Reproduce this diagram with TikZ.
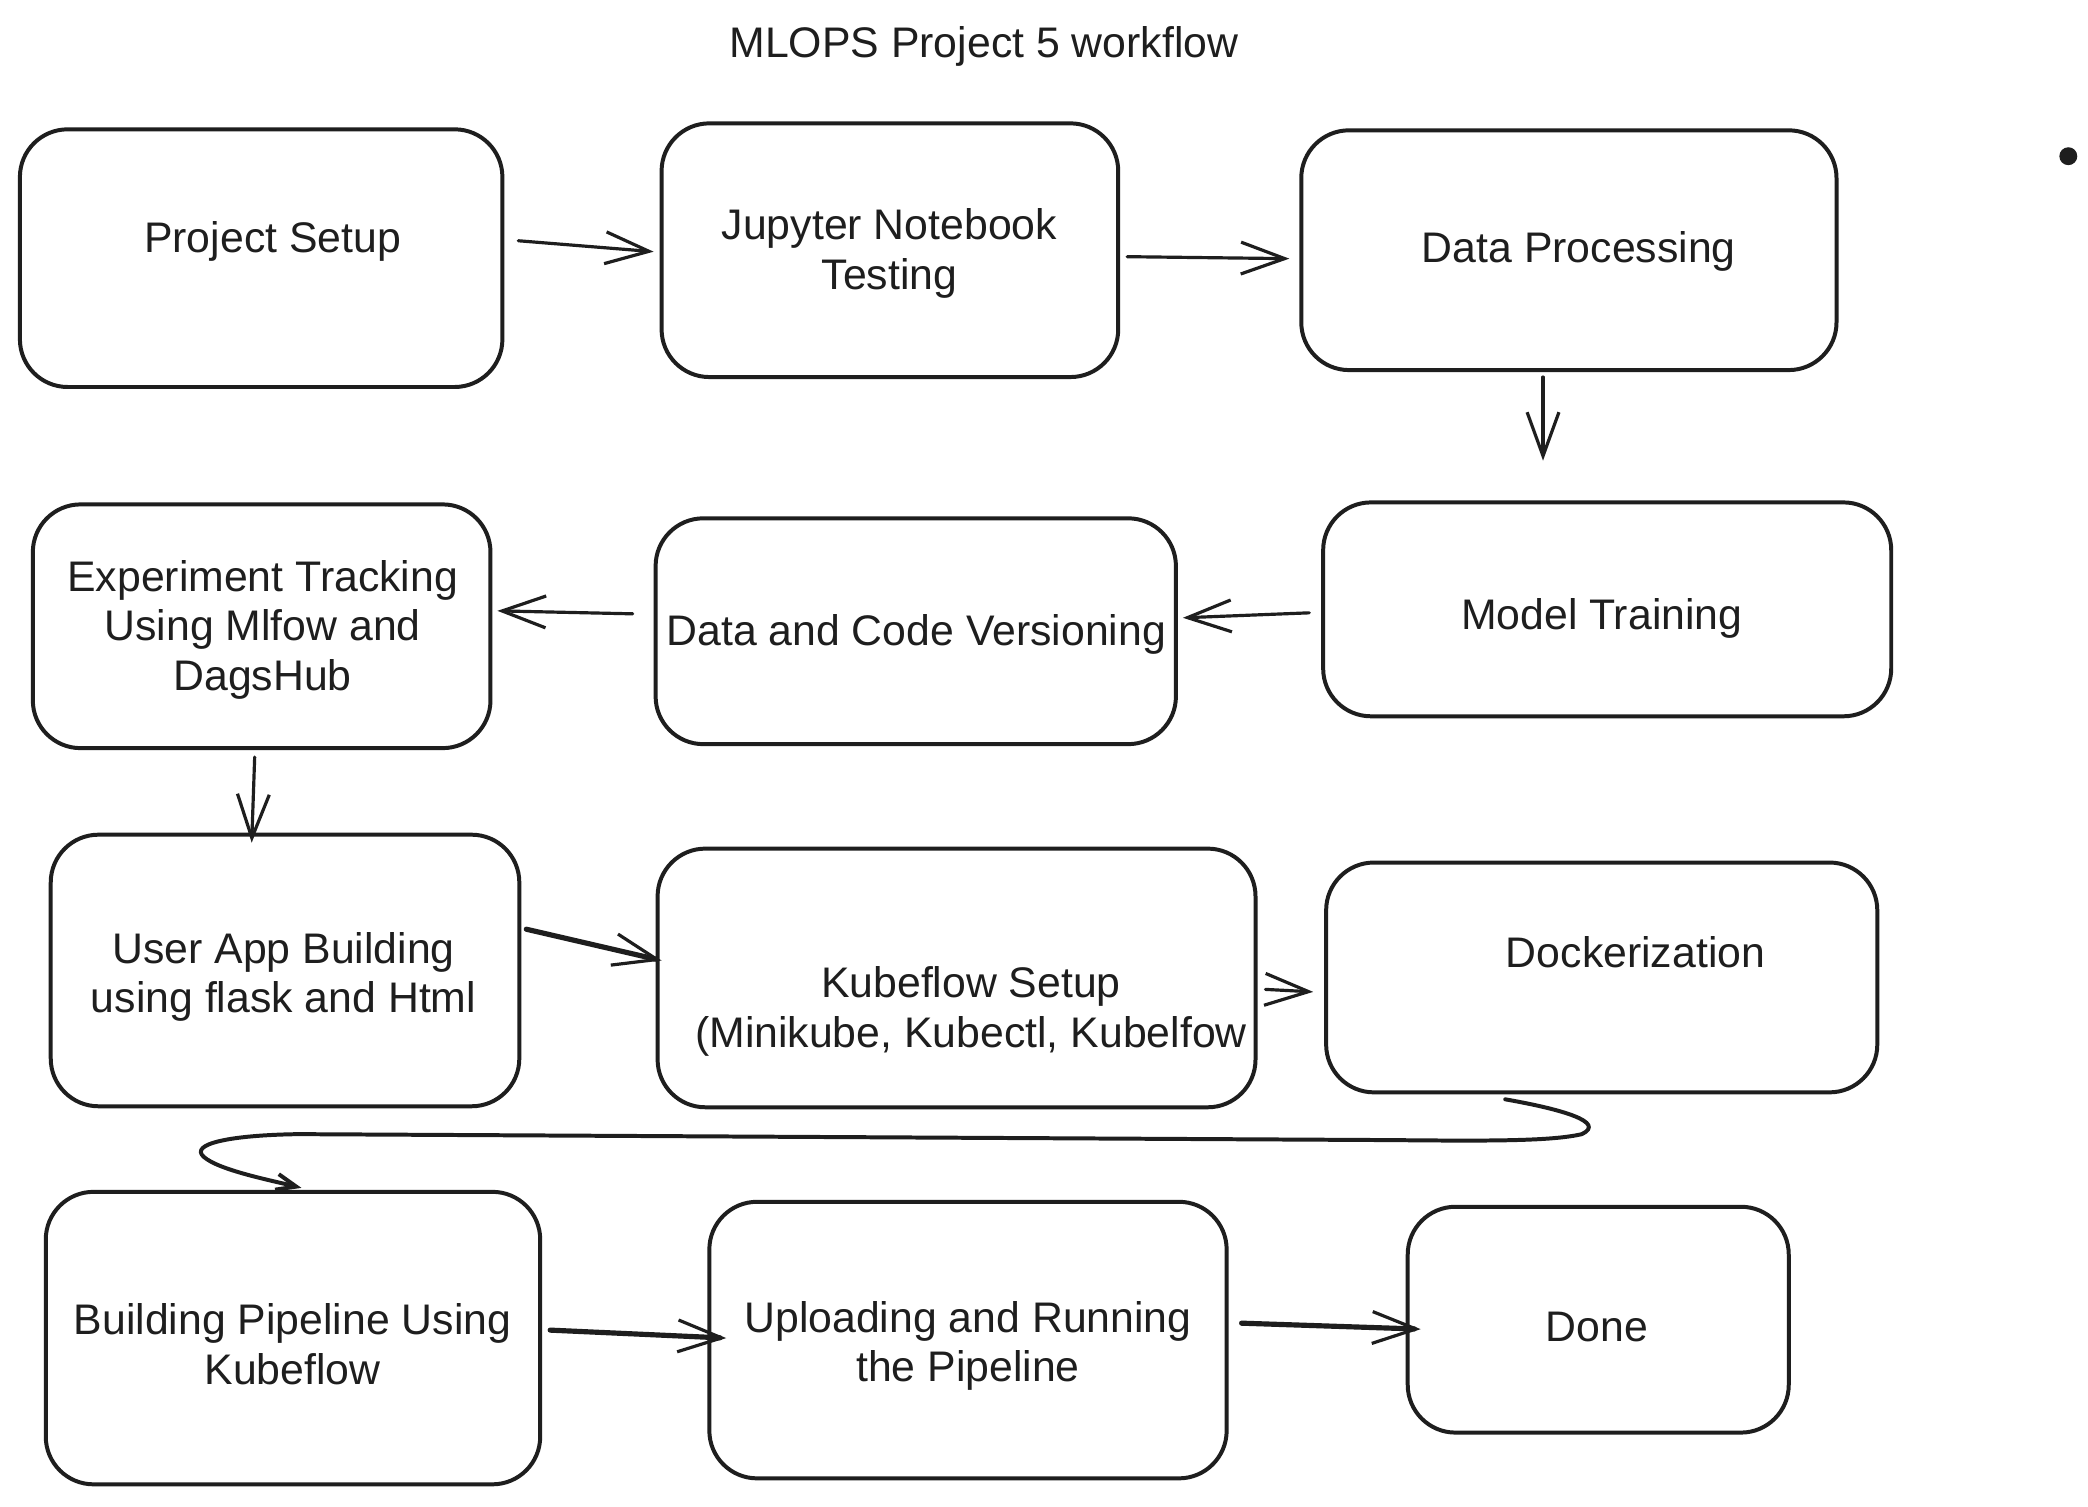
\documentclass[tikz,border=0pt]{standalone}
\usepackage{fontspec}
\setmainfont{Liberation Sans}
\usetikzlibrary{arrows.meta,calc}
\definecolor{ink}{HTML}{1E1E1E}
\begin{document}
\begin{tikzpicture}[x=0.5pt,y=-0.5pt,
  box/.style={draw=ink,line width=2pt,rounded corners=24pt,inner sep=0pt},
  lbl/.style={text=ink,align=center,font=\fontsize{21.5}{25}\selectfont,inner sep=0pt},
  conn/.style={draw=ink,line width=1.6pt,line cap=round,line join=round,
    -{Straight Barb[length=22pt,width=16pt,line width=1.6pt]}},
  thick conn/.style={conn,line width=2.6pt},
]
\fill[white] (0,0) rectangle (2098.8,1513.8);
\useasboundingbox (0,0) rectangle (2098.8,1513.8);

\node[lbl] (title) at (989,47) {MLOPS Project 5 workflow};
\node[circle,fill=ink,minimum size=9pt,inner sep=0pt] (dot) at (2079,157) {};

% boxes
\node[box,minimum width=242.5pt,minimum height=129.5pt] (ps) at (262.5,259.5) {};
\node[box,minimum width=229.5pt,minimum height=127.5pt] (jn) at (894.5,251.5) {};
\node[box,minimum width=269pt,minimum height=120.5pt] (dp) at (1577,251.5) {};
\node[box,minimum width=285.5pt,minimum height=107.5pt] (mt) at (1615.5,612.5) {};
\node[box,minimum width=261.5pt,minimum height=113.5pt] (dcv) at (920.5,634.5) {};
\node[box,minimum width=230pt,minimum height=122.5pt] (et) at (263,629.5) {};
\node[box,minimum width=235.5pt,minimum height=136.5pt] (ua) at (286.5,975.5) {};
\node[box,minimum width=300.5pt,minimum height=130pt] (ks) at (961.5,983) {};
\node[box,minimum width=277pt,minimum height=115.5pt] (dk) at (1610,982.5) {};
\node[box,minimum width=248.5pt,minimum height=147pt] (bp) at (294.5,1345) {};
\node[box,minimum width=260pt,minimum height=139pt] (ul) at (973,1347) {};
\node[box,minimum width=191.5pt,minimum height=113.5pt] (dn) at (1606.5,1326.5) {};

% texts
\node[lbl] (tps) at (274,243) {Project Setup};
\node[lbl] (tjn) at (894,255) {Jupyter Notebook\\Testing};
\node[lbl] (tdp) at (1587,253) {Data Processing};
\node[lbl] (tmt) at (1610,622) {Model Training};
\node[lbl] (tdcv) at (921,638) {Data and Code Versioning};
\node[lbl] (tet) at (264,633) {Experiment Tracking\\Using Mlfow and\\DagsHub};
\node[lbl] (tua) at (285,982) {User App Building\\using flask and Html};
\node[lbl] (tks) at (976,1017) {Kubeflow Setup\\(Minikube, Kubectl, Kubelfow};
\node[lbl] (tdk) at (1644,957) {Dockerization};
\node[lbl] (tbp) at (294,1351) {Building Pipeline Using\\Kubeflow};
\node[lbl] (tul) at (973,1353) {Uploading and Running\\the Pipeline};
\node[lbl] (tdn) at (1605,1334) {Done};

% connectors
\draw[conn] ([shift={(14,-17.5)}]ps.east) -- ([shift={(-6,1.5)}]jn.west);
\draw[conn] ([shift={(7,6.5)}]jn.east) -- ([shift={(-10,8.5)}]dp.west);
\draw[conn] ([shift={(-26,5)}]dp.south) -- ([shift={(-64.5,-40)}]mt.north);
\draw[conn] ([shift={(-12,3.5)}]mt.west) -- ([shift={(5,-13.5)}]dcv.east);
\draw[conn] ([shift={(-21,-17.5)}]dcv.west) -- ([shift={(5,-15.5)}]et.east);
\draw[conn] ([shift={(-7,7)}]et.south) -- ([shift={(-33.5,10)}]ua.north);
\draw[thick conn] ([shift={(5,-41.5)}]ua.east) -- ([shift={(6,-17.5)}]ks.west);
\draw[conn] ([shift={(8,11.5)}]ks.east) -- ([shift={(-11,14.5)}]dk.west);
\draw[conn,line width=2pt,-{Straight Barb[length=10pt,width=8pt,line width=2pt]}]
  ([shift={(-97,5)}]dk.south) .. controls (1570,1115) and (1615,1128) .. (1590,1140)
  .. controls (1560,1147) and (1500,1147) .. (1400,1146) -- (300,1140)
  .. controls (230,1141) and (190,1150) .. (205,1163)
  .. controls (220,1176) and (270,1186) .. ([shift={(8.5,-2)}]bp.north);
\draw[thick conn] ([shift={(8,-8)}]bp.east) -- ([shift={(19,-2)}]ul.west);
\draw[thick conn] ([shift={(13,-17)}]ul.east) -- ([shift={(15,9.5)}]dn.west);
\end{tikzpicture}
\end{document}
